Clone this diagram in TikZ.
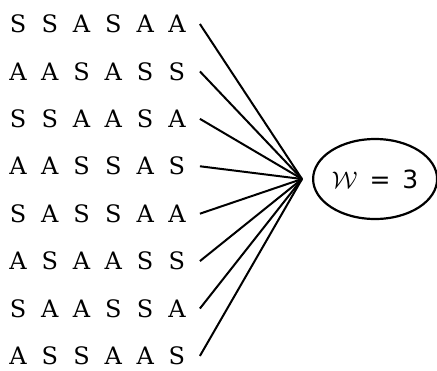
\documentclass[tikz,border=0pt]{standalone}
\usepackage{fontspec}
\setmainfont{DejaVu Serif}
\newfontfamily\labelfont{DejaVu Sans}
\usepackage{tikz}
\usetikzlibrary{positioning, shapes.geometric}
\newcommand{\tile}[1]{\makebox[15.9pt]{#1}}
\newcommand{\tiles}[6]{\tile{#1}\tile{#2}\tile{#3}\tile{#4}\tile{#5}\tile{#6}}

\begin{document}
\begin{tikzpicture}[
  seqrow/.style={inner sep=0pt, outer xsep=3.5pt, outer ysep=0pt,
    minimum height=12pt, text height=8.7pt, text depth=0pt,
    font=\fontsize{12}{14}\selectfont},
  target/.style={ellipse, draw, line width=1.1pt, inner sep=0pt,
    minimum width=62pt, minimum height=40pt,
    font=\labelfont\fontsize{12.5}{14}\selectfont},
  spoke/.style={line width=1pt}
]
  \useasboundingbox (0pt,0pt) rectangle (218.5pt,-185pt);

  \node[seqrow] (r1) at (48.75pt,-12pt) {\tiles SSASAA};
  \node[seqrow, below=11.71pt of r1] (r2) {\tiles AASASS};
  \node[seqrow, below=11.71pt of r2] (r3) {\tiles SSAASA};
  \node[seqrow, below=11.71pt of r3] (r4) {\tiles AASSAS};
  \node[seqrow, below=11.71pt of r4] (r5) {\tiles SASSAA};
  \node[seqrow, below=11.71pt of r5] (r6) {\tiles ASAASS};
  \node[seqrow, below=11.71pt of r6] (r7) {\tiles SAASSA};
  \node[seqrow, below=11.71pt of r7] (r8) {\tiles ASSAAS};

  \coordinate (hub) at (151pt,-89.5pt);
  \node[target, right=5pt of hub] (w) {$\mathcal{W}$\hspace{6pt}=\hspace{6pt}3\hspace{4pt}};

  \draw[spoke] (r1.east) -- (hub);
  \draw[spoke] (r2.east) -- (hub);
  \draw[spoke] (r3.east) -- (hub);
  \draw[spoke] (r4.east) -- (hub);
  \draw[spoke] (r5.east) -- (hub);
  \draw[spoke] (r6.east) -- (hub);
  \draw[spoke] (r7.east) -- (hub);
  \draw[spoke] (r8.east) -- (hub);
\end{tikzpicture}
\end{document}
